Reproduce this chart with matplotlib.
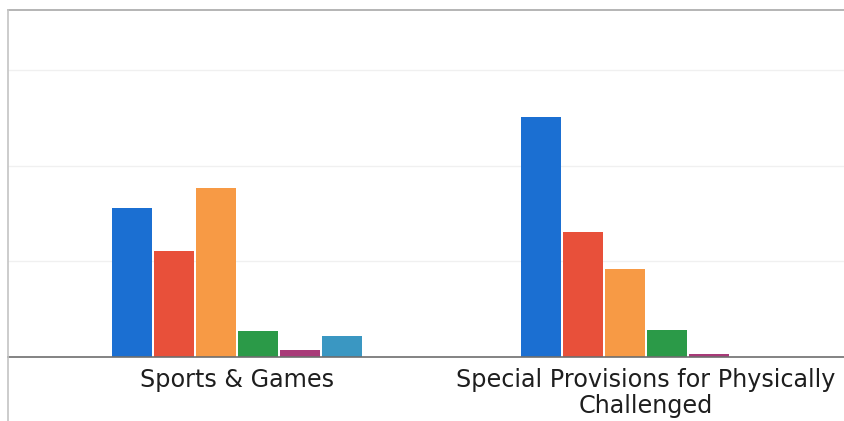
import matplotlib as mpl
from matplotlib import pyplot
from matplotlib.lines import Line2D
import numpy as np

# Grouped bar chart, two categories, six series (no legend / y labels visible)

categories = ["Sports & Games", "Special Provisions for Physically\nChallenged"]
series_1 = [15.6, 25.1]
series_2 = [11.1, 13.1]
series_3 = [17.7, 9.2]
series_4 = [2.7, 2.8]
series_5 = [0.7, 0.3]
series_6 = [2.2, 0.0]
colors = ["#1b6fd2", "#e8503a", "#f79a45", "#2b9a48", "#a83a78", "#3a97c2"]

pyplot.rcParams["font.family"] = "DejaVu Sans"

W, H = 845, 421
fig = pyplot.figure(figsize=(W / 100, H / 100), dpi=100)
ax = fig.add_axes([8 / W, (H - 357) / H, (W - 8) / W, (357 - 10) / H])

x = np.arange(len(categories))
step = 0.1027
width = 0.098
all_series = [series_1, series_2, series_3, series_4, series_5, series_6]
for i, (vals, c) in enumerate(zip(all_series, colors)):
    ax.bar(x + (i - 2.5) * step, vals, width=width, color=c, zorder=3)

ax.set_xlim(-0.56, 1.487)
ax.set_ylim(0, 36.3)
ax.set_yticks([10, 20, 30])
ax.yaxis.grid(True, color="#f0f0f0", linewidth=1, zorder=0)
ax.tick_params(axis="y", left=False, labelleft=False)
ax.set_xticks(x, categories)
ax.tick_params(axis="x", length=0, pad=8, labelsize=17.2, labelcolor="#1e1e1e")
for lbl in ax.get_xticklabels():
    lbl.set_linespacing(1.12)

for s in ["top", "right", "left"]:
    ax.spines[s].set_visible(False)
ax.spines["bottom"].set_color("#6e6e6e")
ax.spines["bottom"].set_linewidth(1.2)
ax.spines["bottom"].set_zorder(4)

# outer chart frame (partially visible in the scan)
fig.add_artist(Line2D([8 / W, 1], [(H - 10) / H, (H - 10) / H], color="#a8a8a8", linewidth=1.2))
fig.add_artist(Line2D([8 / W, 8 / W], [0, (H - 10) / H], color="#c4c4c4", linewidth=1.2))

pyplot.savefig("out.png", dpi=100)
